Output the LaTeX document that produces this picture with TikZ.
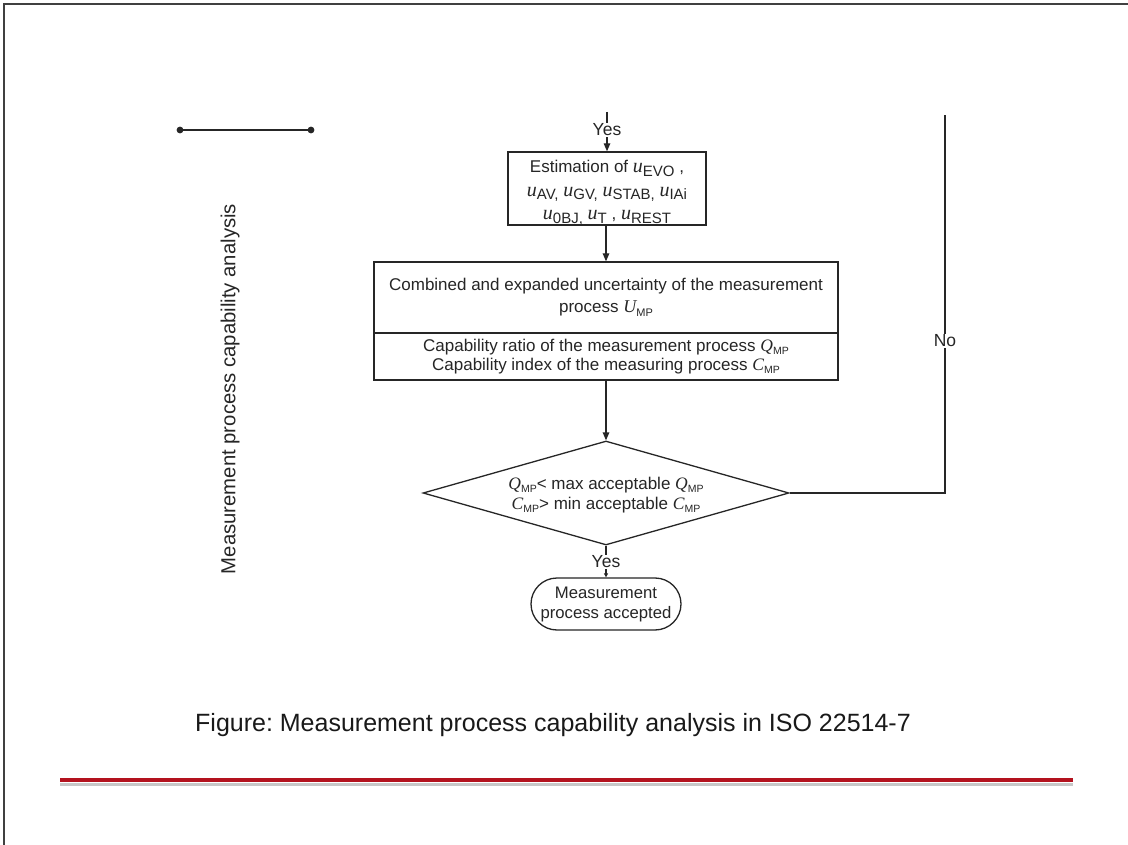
\documentclass[tikz,border=0pt]{standalone}
\usepackage{fontspec}
\setmainfont{Liberation Sans}
\newfontfamily\tnr{Liberation Serif}
\frenchspacing
\usetikzlibrary{arrows.meta,shapes.geometric,shapes.misc}
% italic serif quantity with a sans subscript: [sub size]{symbol size}{symbol}{subscript}
\newcommand\qsym[4][11]{{\fontsize{#2}{#2}\selectfont\tnr\itshape #3}\raisebox{-0.35ex}{\fontsize{#1}{#1}\selectfont #4}}
\definecolor{ink}{HTML}{262626}
\definecolor{barred}{HTML}{B3121E}
\tikzset{
  line/.style={draw=ink, line width=1.3pt},
  arr/.style={line, -{Triangle[length=8pt,width=6.5pt]}},
  smallarr/.style={line, -{Triangle[length=4pt,width=4pt]}},
  box/.style={line, rectangle, fill=white, align=center, inner sep=0pt,
    font=\fontsize{17}{22}\selectfont, text=ink},
  lbl/.style={fill=white, inner sep=1pt, font=\fontsize{17.5}{19}\selectfont, text=ink},
}
\begin{document}
\begin{tikzpicture}[x=1pt,y=-1pt]
\useasboundingbox (0,0) rectangle (1128,845);
\fill[white] (0,0) rectangle (1128,845);

% slide frame (top and left edges)
\coordinate (fA) at (4,845);
\coordinate (fB) at (4,4);
\coordinate (fC) at (1128,4);
\draw[draw=black!75, line width=2pt] (fA) -- (fB) -- (fC);

% short line with end dots
\coordinate (dL) at (180,130);
\coordinate (dR) at (311,130);
\draw[line] (dL) -- (dR);
\fill[ink] (dL) circle (3.4pt) (dR) circle (3.4pt);

% side title
\node[rotate=90, font=\fontsize{20.3}{22}\selectfont, text=ink] (side) at (230,389)
  {Measurement process capability analysis};

% estimation box
\node[box, minimum width=198pt, minimum height=73pt, font=\fontsize{17}{23.5}\selectfont] (est) at (607,188.5)
  {\rule{0pt}{21pt}Estimation of \qsym[15]{20}{u}{EVO} ,\\
   \qsym[15]{20}{u}{AV,} \qsym[15]{20}{u}{GV,} \qsym[15]{20}{u}{STAB,} \qsym[15]{20}{u}{IAi}\\
   \qsym[15]{20}{u}{0BJ,} \qsym[15]{20}{u}{T} , \qsym[15]{20}{u}{REST}};

% incoming branch
\coordinate (intop) at (607,112);
\node[lbl] (yes1) at (607,130) {Yes};
\draw[line] (intop) -- (yes1.north);
\draw[arr] (yes1.south) -- (est.north);

% combined uncertainty box
\node[box, minimum width=464pt, minimum height=71pt] (comb) at (606,297.5)
  {Combined and expanded uncertainty of the measurement\\
   process \qsym[11]{18}{U}{MP}};
\node[box, minimum width=464pt, minimum height=47pt, font=\fontsize{17}{18.5}\selectfont] (cap) at (606,356.5)
  {Capability ratio of the measurement process \qsym[10.5]{17.5}{Q}{MP}\\
   Capability index of the measuring process \qsym[10.5]{17.5}{C}{MP}};
\draw[arr] (est.south -| comb.north) -- (comb.north);

% decision
\node[line, diamond, aspect=3.52, inner sep=0pt, minimum width=366pt, minimum height=104pt,
      align=center, font=\fontsize{17}{20}\selectfont, text=ink] (dec) at (606,493)
  {\rule{0pt}{17pt}\qsym[10.5]{17.5}{Q}{MP}< max acceptable \qsym[10.5]{17.5}{Q}{MP}\\
   \qsym[10.5]{17.5}{C}{MP}> min acceptable \qsym[10.5]{17.5}{C}{MP}};
\draw[arr] (cap.south) -- (dec.north);

% accepted terminal
\node[line, rounded rectangle, minimum width=150pt, minimum height=52pt, inner sep=0pt,
      align=center, font=\fontsize{16.7}{20}\selectfont, text=ink] (acc) at (606,604)
  {Measurement\\process accepted};
\node[lbl] (yes2) at (606,562) {Yes};
\draw[line] (dec.south) -- (yes2.north);
\draw[smallarr] (yes2.south) -- (acc.north);

% rejection branch back to the top
\coordinate (noC) at (945,493);
\coordinate (noT) at (945,115);
\draw[line] (dec.east) -- (noC) -- (noT);
\node[lbl] (no) at (945,341) {No};

% caption
\node[font=\fontsize{25}{28}\selectfont, text=black!90] (cap1) at (553,725)
  {Figure: Measurement process capability analysis in ISO 22514-7};

% footer rule with soft shadow
\coordinate (rL) at (60,780);
\coordinate (rR) at (1073,780);
\draw[black!22, line width=3pt] ([yshift=-4pt]rL) -- ([yshift=-4pt]rR);
\draw[barred, line width=3.5pt] (rL) -- (rR);
\end{tikzpicture}
\end{document}
